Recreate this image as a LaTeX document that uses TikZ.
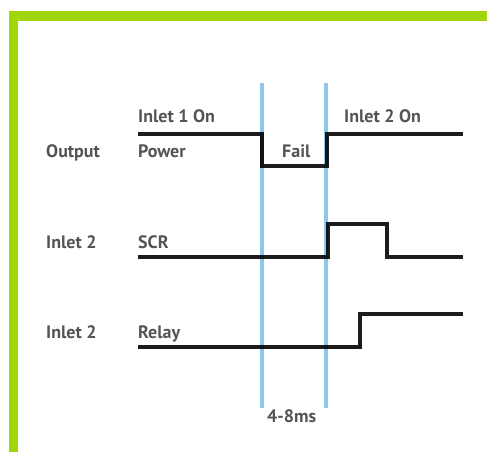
\documentclass[tikz,border=0pt]{standalone}
\usepackage{fontspec}
\setmainfont{PT Sans}
\usetikzlibrary{positioning}
\definecolor{frameGreen}{HTML}{A3D50B}
\definecolor{markBlue}{HTML}{8CC9E8}
\definecolor{ink}{HTML}{1C1C1C}
\definecolor{lblGray}{HTML}{535456}
\tikzset{
  lbl/.style={font=\bfseries\fontsize{18}{21}\selectfont,text=lblGray,inner sep=0pt,anchor=base west},
  wave/.style={line width=4pt,ink,line join=miter},
  marker/.style={line width=4.5pt,markBlue}}

\begin{document}
\begin{tikzpicture}[x=1pt,y=-1pt]
  \useasboundingbox (0,0) rectangle (487,452);
  % frame
  \fill[frameGreen] (9,11) rectangle (487,21);
  \fill[frameGreen] (9,11) rectangle (18,452);
  % labels
  \node[lbl] (in1on) at (138,122) {Inlet 1 On};
  \node[lbl] (in2on) at (344,122) {Inlet 2 On};
  \node[lbl] (out) at (46,157) {Output};
  \node[lbl] (power) at (138,157) {Power};
  \node[lbl] (fail) at (282,157) {Fail};
  \node[lbl] (in2a) at (46,248) {Inlet 2};
  \node[lbl] (scr) at (138,248) {SCR};
  \node[lbl] (in2b) at (46,338) {Inlet 2};
  \node[lbl] (relay) at (138,338) {Relay};
  \node[lbl] (gap) at (267,422) {4-8ms};
  % waveforms
  \draw[wave] (138,134) -| (262,166) -| (327,134) -- (463,134);
  \draw[wave] (138,257) -| (328,224) -| (387,257) -- (463,257);
  \draw[wave] (138,347) -| (360,314) -- (463,314);
  % transfer window
  \begin{scope}[blend mode=multiply]
    \draw[marker] (262,83) coordinate (t1) -- (262,408);
    \draw[marker] (326,83) coordinate (t2) -- (326,408);
  \end{scope}
\end{tikzpicture}
\end{document}
